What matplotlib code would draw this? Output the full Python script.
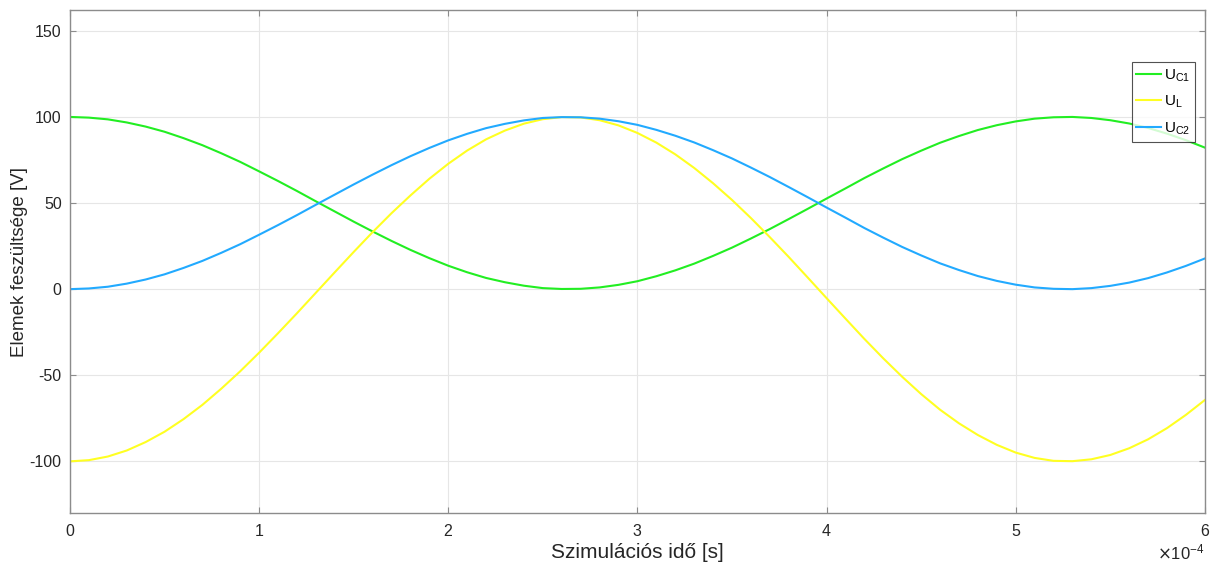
import matplotlib.pyplot as plt
import numpy as np
from matplotlib.ticker import ScalarFormatter

plt.rcParams['font.family'] = ['Liberation Sans', 'DejaVu Sans']
plt.rcParams['axes.unicode_minus'] = False

# sample times [s], every 10 us
t = np.linspace(0, 6e-4, 61)

u_c1 = [100.0, 99.6, 98.6, 96.8, 94.4, 91.4, 87.7, 83.6, 78.9, 73.9, 68.4,
        62.8, 57.0, 51.0, 45.1, 39.2, 33.5, 28.0, 22.8, 18.0, 13.6, 9.8,
        6.5, 4.0, 2.0, 0.6, 0.1, 0.2, 1.0, 2.5, 4.6, 7.5, 10.9, 14.8, 19.3,
        24.1, 29.4, 34.9, 40.7, 46.6, 52.6, 58.5, 64.5, 70.1, 75.5, 80.4,
        85.0, 88.9, 92.4, 95.2, 97.4, 99.0, 99.8, 100.0, 99.4, 98.1, 96.2,
        93.6, 90.3, 86.5, 82.2]

u_l = [-100.0, -99.3, -97.2, -93.7, -88.8, -82.8, -75.5, -67.2, -57.8, -47.7,
       -36.9, -25.6, -14.0, -2.1, 9.8, 21.6, 33.1, 44.1, 54.4, 64.1, 72.8,
       80.5, 87.0, 92.1, 96.1, 98.7, 99.9, 99.7, 98.1, 95.1, 90.7, 85.1,
       78.3, 70.4, 61.5, 51.8, 41.3, 30.2, 18.7, 6.8, -5.2, -17.1, -28.9,
       -40.2, -50.9, -60.9, -70.0, -77.9, -84.7, -90.4, -94.9, -98.0, -99.7,
       -99.9, -98.8, -96.3, -92.4, -87.2, -80.7, -73.0, -64.4]

u_c2 = [0.0, 0.4, 1.4, 3.2, 5.6, 8.6, 12.3, 16.4, 21.1, 26.1, 31.6, 37.2,
        43.0, 49.0, 54.9, 60.8, 66.5, 72.0, 77.2, 82.0, 86.4, 90.2, 93.5,
        96.0, 98.0, 99.4, 99.9, 99.8, 99.0, 97.5, 95.4, 92.5, 89.1, 85.2,
        80.7, 75.9, 70.6, 65.1, 59.3, 53.4, 47.4, 41.5, 35.5, 29.9, 24.5,
        19.6, 15.0, 11.1, 7.6, 4.8, 2.6, 1.0, 0.2, 0.0, 0.6, 1.9, 3.8, 6.4,
        9.7, 13.5, 17.8]

fig = plt.figure(figsize=(12.17, 5.65), dpi=100)
ax = fig.add_axes([0.0575, 0.092, 0.9325, 0.890])

ax.plot(t, u_c1, color='#22ee22', lw=1.5, label='U$_{\\mathregular{C1}}$')
ax.plot(t, u_l, color='#ffff22', lw=1.5, label='U$_{\\mathregular{L}}$')
ax.plot(t, u_c2, color='#22aaff', lw=1.5, label='U$_{\\mathregular{C2}}$')

ax.set_xlim(0, 6e-4)
ax.set_ylim(-130, 162)
ax.set_yticks([-100, -50, 0, 50, 100, 150])
ax.set_xticks(np.arange(0, 7) * 1e-4)

fmt = ScalarFormatter(useMathText=True)
fmt.set_powerlimits((-3, 3))
ax.xaxis.set_major_formatter(fmt)
ax.xaxis.get_offset_text().set_fontsize(12)
ax.xaxis.get_offset_text().set_color('#262626')

ax.grid(True, color='#e6e6e6', lw=0.8)
ax.set_axisbelow(True)
for s in ax.spines.values():
    s.set_color('#8c8c8c')
    s.set_linewidth(1.0)
ax.tick_params(direction='in', length=4, color='#8c8c8c', labelsize=11.5,
               labelcolor='#262626', top=True, right=True)
ax.tick_params(axis='x', pad=7)
ax.tick_params(axis='y', pad=6)

ax.set_xlabel('Szimulációs idő [s]', fontsize=15, color='#262626', labelpad=3)
ax.set_ylabel('Elemek feszültsége [V]', fontsize=13.5, color='#262626')
ax.yaxis.set_label_coords(-0.037, 0.5)

leg = ax.legend(loc='upper right', bbox_to_anchor=(0.991, 0.896), fontsize=11,
                frameon=True, fancybox=False, handlelength=1.6,
                handletextpad=0.2, borderpad=0.3, labelspacing=0.65,
                borderaxespad=0)
leg.get_frame().set_edgecolor('#262626')
leg.get_frame().set_linewidth(0.8)

fig.savefig('out.png', dpi=100)
